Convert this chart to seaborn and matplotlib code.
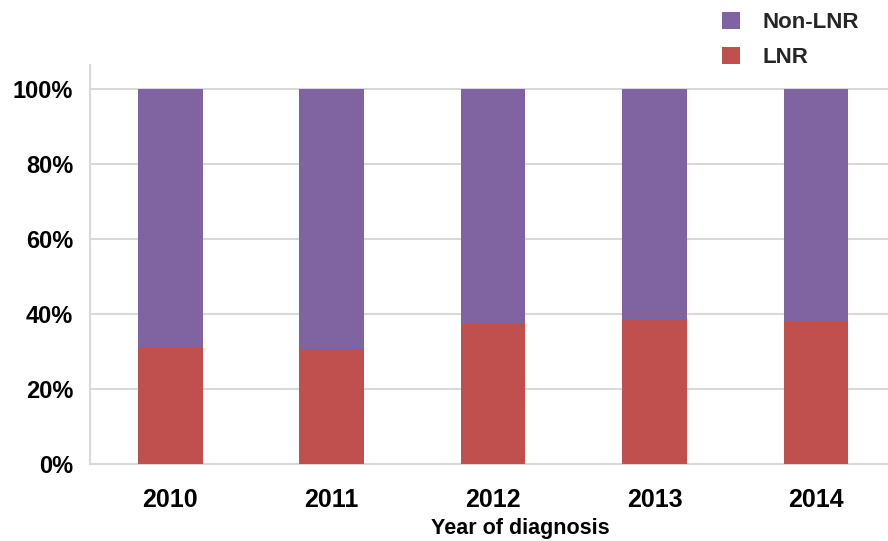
import matplotlib
matplotlib.use("Agg")
import matplotlib.pyplot as plt
import seaborn as sns
import pandas as pd
from matplotlib.ticker import PercentFormatter
from matplotlib.patches import Patch

years = ["2010", "2011", "2012", "2013", "2014"]
lnr = [30.9, 30.6, 37.3, 38.8, 37.9]
non_lnr = [69.1, 69.4, 62.7, 61.2, 62.1]
series_names = ["Non-LNR", "LNR"]
colors = {"Non-LNR": "#8064A2", "LNR": "#C0504D"}

df = pd.DataFrame({"year": years, "LNR": lnr, "Non-LNR": non_lnr})
df["total"] = df["LNR"] + df["Non-LNR"]

sns.set_theme(style="white")
plt.rcParams["font.family"] = ["Liberation Sans", "DejaVu Sans"]

fig = plt.figure(figsize=(8.88, 5.41), dpi=100)
ax = fig.add_axes([90 / 888, 1 - 464 / 541, 798 / 888, 399 / 541])

sns.barplot(data=df, x="year", y="total", order=years, color=colors["Non-LNR"],
            width=0.4, saturation=1, linewidth=0, ax=ax, zorder=3)
sns.barplot(data=df, x="year", y="LNR", order=years, color=colors["LNR"],
            width=0.4, saturation=1, linewidth=0, ax=ax, zorder=3)

ax.set_xlim(-0.497, 4.445)
ax.set_ylim(0, 106.4)
ax.set_yticks([0, 20, 40, 60, 80, 100])
ax.yaxis.set_major_formatter(PercentFormatter(100, decimals=0))
ax.grid(axis="y", color="#D9D9D9", linewidth=1.5, zorder=0)
ax.set_axisbelow(True)
for s in ["top", "right"]:
    ax.spines[s].set_visible(False)
ax.spines["left"].set_color("#D9D9D9")
ax.spines["left"].set_linewidth(1.5)
ax.spines["bottom"].set_color("#D9D9D9")
ax.spines["bottom"].set_linewidth(1.5)
ax.tick_params(axis="both", length=0)
ax.tick_params(axis="y", pad=12, labelsize=17)
ax.tick_params(axis="x", pad=17, labelsize=18)
for lab in ax.get_xticklabels() + ax.get_yticklabels():
    lab.set_fontweight("bold")
    lab.set_color("black")

ax.set_ylabel("")
ax.set_xlabel("Year of diagnosis", fontsize=15.5, fontweight="bold", color="black")
ax.xaxis.set_label_coords(0.539, -0.136)

handles = [Patch(facecolor=colors[n], edgecolor="none") for n in series_names]
fig.legend(handles, series_names, loc="upper left",
           bbox_to_anchor=(722 / 888, 1 - 12 / 541), frameon=False,
           borderpad=0, borderaxespad=0, handlelength=0.8, handleheight=0.8,
           handletextpad=1.0, labelspacing=0.6,
           prop={"weight": "bold", "size": 16})

fig.savefig("out.png", dpi=100)
